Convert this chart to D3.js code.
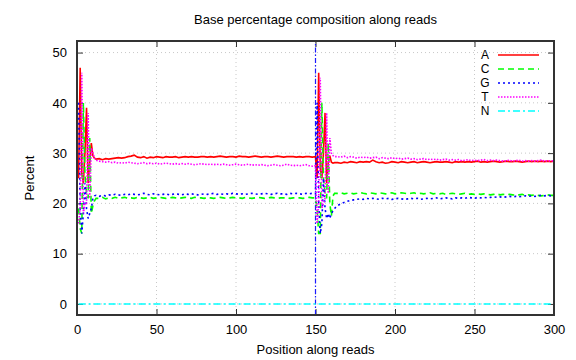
<!DOCTYPE html>
<html>
<head>
<meta charset="utf-8">
<script src="https://cdn.jsdelivr.net/npm/d3@7"></script>
<style>
  html, body { margin: 0; padding: 0; background: #fff; }
  svg text { font-family: "Liberation Sans", Arial, Helvetica, sans-serif; }
</style>
</head>
<body>
<svg id="chart" width="576" height="360"></svg>
<script>
// ---------------- DATA ----------------
const title = "Base percentage composition along reads";
const xLabel = "Position along reads";
const yLabel = "Percent";
const xTicks = [0, 50, 100, 150, 200, 250, 300];
const yTicks = [0, 10, 20, 30, 40, 50];
const bases = ["A", "C", "G", "T", "N"];

// read 1: positions 1..12 individually, then every 2nd position to 150
// read 2: positions 151..162 individually, then every 2nd position to 300
const positions = [
  1,2,3,4,5,6,7,8,9,10,11,12,
  14,16,18,20,22,24,26,28,30,32,
  34,36,38,40,42,44,46,48,50,52,
  54,56,58,60,62,64,66,68,70,72,
  74,76,78,80,82,84,86,88,90,92,
  94,96,98,100,102,104,106,108,110,112,
  114,116,118,120,122,124,126,128,130,132,
  134,136,138,140,142,144,146,148,150,
  151,152,153,154,155,156,157,158,159,160,161,162,
  164,166,168,170,172,174,176,178,180,182,
  184,186,188,190,192,194,196,198,200,202,
  204,206,208,210,212,214,216,218,220,222,
  224,226,228,230,232,234,236,238,240,242,
  244,246,248,250,252,254,256,258,260,262,
  264,266,268,270,272,274,276,278,280,282,
  284,286,288,290,292,294,296,298,300
];

const valuesA = [
  25,47,26,24,30,39,24,28,32,29.5,29,28.8,
  28.9,28.7,28.9,28.8,28.9,29.0,29.1,29.0,29.1,29.3,
  29.4,29.6,29.2,29.1,29.3,29.0,29.2,29.1,29.3,29.2,
  29.1,29.3,29.2,29.2,29.3,29.1,29.2,29.3,29.2,29.3,
  29.2,29.2,29.3,29.3,29.2,29.3,29.2,29.3,29.4,29.3,
  29.2,29.3,29.3,29.2,29.4,29.3,29.3,29.2,29.3,29.4,
  29.3,29.2,29.3,29.3,29.2,29.3,29.4,29.3,29.2,29.3,
  29.3,29.3,29.2,29.3,29.2,29.3,29.3,29.2,29.3,
  25,46,27,25,30,38,24,28,29.5,28.2,28.0,28.1,
  28.1,28.0,28.2,28.1,28.3,28.2,28.1,28.3,28.2,28.3,
  28.2,28.6,28.3,28.1,28.2,28.0,28.1,28.3,28.2,28.1,
  28.3,28.2,28.1,28.2,28.3,28.1,28.2,28.3,28.2,28.1,
  28.2,28.3,28.2,28.2,28.3,28.2,28.1,28.3,28.2,28.3,
  28.2,28.3,28.2,28.3,28.4,28.2,28.3,28.2,28.3,28.4,
  28.3,28.2,28.3,28.4,28.3,28.3,28.4,28.3,28.2,28.3,
  28.4,28.3,28.4,28.3,28.4,28.3,28.4,28.3,28.4
];

const valuesC = [
  19,15,14,40,26,22,21,33,18,19.5,20.5,21,
  21.0,21.2,20.9,21.1,21.0,21.2,21.0,21.1,21.2,21.0,
  21.1,21.0,21.2,21.1,21.0,21.1,21.2,21.0,21.1,21.2,
  21.1,21.0,21.1,21.2,21.1,21.0,21.1,21.2,21.1,21.0,
  21.2,21.1,21.1,21.0,21.2,21.1,21.0,21.1,21.2,21.1,
  21.0,21.1,21.2,21.1,21.1,21.0,21.2,21.1,21.0,21.1,
  21.2,21.1,21.0,21.1,21.2,21.1,21.0,21.1,21.1,21.2,
  21.0,21.1,21.2,21.1,21.0,21.1,21.2,21.1,21.1,
  19,14,14,40,25,22,21,32,20,17.5,21.5,22.0,
  22.0,22.1,21.9,22.0,22.1,21.9,22.0,22.2,22.0,21.9,
  22.1,22.0,21.9,22.1,22.0,21.9,22.0,22.1,21.9,22.0,
  22.1,22.0,21.9,22.0,22.1,21.9,22.0,21.9,22.0,22.1,
  21.9,22.0,21.9,22.0,21.8,21.9,22.0,21.9,21.8,21.9,
  22.0,21.8,21.9,21.8,21.9,21.8,21.9,21.8,21.7,21.8,
  21.9,21.7,21.8,21.7,21.8,21.7,21.6,21.7,21.8,21.6,
  21.7,21.6,21.7,21.6,21.5,21.6,21.7,21.6,21.6
];

const valuesG = [
  40,19,14,18,24,19,17,18,19,21,21.5,21.6,
  21.4,21.6,21.5,21.7,21.6,21.8,21.7,21.6,21.8,21.7,
  21.9,21.8,21.7,21.8,22.0,21.8,21.7,21.9,21.8,21.7,
  21.8,21.9,21.7,21.8,21.9,21.8,21.7,21.9,21.8,21.9,
  21.8,21.7,21.8,21.9,21.8,21.9,22.0,21.8,21.9,21.8,
  21.9,21.8,22.0,21.9,21.8,21.9,21.8,21.9,22.0,21.9,
  21.8,21.9,22.0,21.9,21.8,21.9,22.0,21.9,21.9,21.8,
  22.0,21.9,22.0,21.9,21.8,22.0,21.9,22.0,21.9,
  40,20,14,16,25,19,17,18,17,18,18.5,19.0,
  19.6,19.9,20.2,20.4,20.6,20.7,20.8,20.9,20.8,21.0,
  20.9,21.0,20.9,20.8,21.0,20.9,21.0,20.8,20.9,21.0,
  20.9,20.8,20.9,21.0,20.9,21.0,20.8,20.9,21.0,20.9,
  21.0,21.1,20.9,21.0,21.1,21.0,20.9,21.1,21.0,21.1,
  21.0,21.2,21.1,21.0,21.2,21.1,21.2,21.1,21.2,21.3,
  21.2,21.3,21.2,21.3,21.4,21.3,21.4,21.3,21.4,21.5,
  21.4,21.5,21.4,21.5,21.6,21.5,21.6,21.5,21.6
];

const valuesT = [
  16,19,46,18,20,20,38,21,31,30,29,28.6,
  28.4,28.3,28.2,28.3,28.1,28.2,28.0,28.1,28.0,28.2,
  28.1,28.0,27.9,28.0,28.1,27.9,28.0,27.9,28.0,27.8,
  27.9,28.0,27.9,27.8,27.9,27.8,27.9,27.8,27.9,27.8,
  27.7,27.8,27.9,27.8,27.7,27.8,27.7,27.8,27.7,27.8,
  27.7,27.6,27.7,27.8,27.7,27.6,27.7,27.8,27.6,27.7,
  27.6,27.7,27.6,27.5,27.6,27.7,27.6,27.5,27.6,27.8,
  27.6,27.5,27.6,27.5,27.6,27.7,27.5,27.4,27.5,
  16,20,45,19,20,21,38,22,33,30,29.5,29.3,
  29.3,29.2,29.4,29.1,29.3,29.2,29.0,29.2,29.1,29.2,
  29.0,29.1,29.2,28.9,29.1,29.0,28.9,29.1,28.9,29.0,
  28.8,28.9,29.0,28.8,28.9,28.7,28.8,28.9,28.7,28.8,
  28.7,28.8,28.6,28.7,28.8,28.6,28.7,28.6,28.7,28.5,
  28.6,28.7,28.5,28.6,28.5,28.6,28.7,28.5,28.6,28.5,
  28.6,28.5,28.4,28.5,28.6,28.4,28.5,28.6,28.4,28.5,
  28.4,28.5,28.4,28.5,28.6,28.4,28.5,28.4,28.5
];

const positionsN = [1, 150, 151, 300];
const valuesN = [0, 0, 0, 0];

const readBoundary = [150];

// ---------------- STYLE ----------------
const W = 576, H = 360;
const m = { left: 77, right: 22, top: 41, bottom: 45 };
const colors = { A: "#ff0000", C: "#00ff00", G: "#0000ff", T: "#ff00ff", N: "#00ffff" };
const dashes = { A: null, C: "6,4", G: "2,3", T: "1.5,1.5", N: "7,3,2,3" };

const svg = d3.select("#chart");
const x = d3.scaleLinear().domain([0, 300]).range([m.left, W - m.right]);
const y = d3.scaleLinear().domain([-2.2, 52.3]).range([H - m.bottom, m.top]);
const x0 = x.range()[0], x1 = x.range()[1], y0 = y.range()[0], y1 = y.range()[1];

svg.append("rect").attr("width", W).attr("height", H).attr("fill", "#fff");

// grid
const grid = svg.append("g");
xTicks.filter(t => t > 0 && t < 300).forEach(t => {
  grid.append("line").attr("x1", x(t)).attr("x2", x(t)).attr("y1", y0).attr("y2", y1)
    .attr("stroke", "#c8c8c8").attr("stroke-width", 1).attr("stroke-dasharray", "1,3");
});
yTicks.forEach(t => {
  grid.append("line").attr("x1", x0).attr("x2", x1).attr("y1", y(t)).attr("y2", y(t))
    .attr("stroke", "#c8c8c8").attr("stroke-width", 1).attr("stroke-dasharray", "1,3");
});

// axes via d3
const tickLen = 6;
const xAxisB = d3.axisBottom(x).tickValues(xTicks).tickSize(-tickLen).tickPadding(10);
const xAxisT = d3.axisTop(x).tickValues(xTicks).tickSize(-tickLen).tickFormat("");
const yAxisL = d3.axisLeft(y).tickValues(yTicks).tickSize(-tickLen).tickPadding(10);
const yAxisR = d3.axisRight(y).tickValues(yTicks).tickSize(-tickLen).tickFormat("");

function styleAxis(g) {
  g.select(".domain").remove();
  g.selectAll(".tick line").attr("stroke", "#333").attr("stroke-width", 1);
  g.selectAll(".tick text").attr("fill", "#000").style("font-size", "13px")
    .style("font-family", "'Liberation Sans', Arial, sans-serif");
}
svg.append("g").attr("transform", `translate(0,${y0})`).call(xAxisB).call(styleAxis);
svg.append("g").attr("transform", `translate(0,${y1})`).call(xAxisT).call(styleAxis);
svg.append("g").attr("transform", `translate(${x0},0)`).call(yAxisL).call(styleAxis);
svg.append("g").attr("transform", `translate(${x1},0)`).call(yAxisR).call(styleAxis);

// read boundary
readBoundary.forEach(b => {
  svg.append("line").attr("x1", x(b)).attr("x2", x(b)).attr("y1", y0).attr("y2", y1)
    .attr("stroke", "#1a1aff").attr("stroke-width", 1.2).attr("stroke-dasharray", "5,2,1.5,2");
});

// series
const series = {
  A: positions.map((p, i) => [p, valuesA[i]]),
  C: positions.map((p, i) => [p, valuesC[i]]),
  G: positions.map((p, i) => [p, valuesG[i]]),
  T: positions.map((p, i) => [p, valuesT[i]]),
  N: positionsN.map((p, i) => [p, valuesN[i]])
};
const line = d3.line().x(d => x(d[0])).y(d => y(d[1]));
svg.append("clipPath").attr("id", "clip").append("rect")
  .attr("x", x0).attr("y", y1).attr("width", x1 - x0).attr("height", y0 - y1);
bases.forEach(b => {
  svg.append("path").datum(series[b]).attr("d", line)
    .attr("clip-path", "url(#clip)")
    .attr("fill", "none").attr("stroke", colors[b]).attr("stroke-width", 1.6)
    .attr("stroke-dasharray", dashes[b]).attr("stroke-linejoin", "miter");
});

// border
svg.append("rect").attr("x", x0).attr("y", y1).attr("width", x1 - x0).attr("height", y0 - y1)
  .attr("fill", "none").attr("stroke", "#333").attr("stroke-width", 2);

// legend
const leg = svg.append("g");
bases.forEach((b, i) => {
  const ly = 55 + i * 14;
  leg.append("text").attr("x", 485).attr("y", ly).attr("dy", "0.36em").attr("text-anchor", "middle")
    .style("font-size", "12px").attr("fill", "#000").text(b);
  leg.append("line").attr("x1", 498).attr("x2", 539).attr("y1", ly).attr("y2", ly)
    .attr("stroke", colors[b]).attr("stroke-width", 1.6).attr("stroke-dasharray", dashes[b]);
});

// titles
svg.append("text").attr("x", (x0 + x1) / 2).attr("y", 24).attr("text-anchor", "middle")
  .style("font-size", "13px").attr("fill", "#000").text(title);
svg.append("text").attr("x", (x0 + x1) / 2).attr("y", 354).attr("text-anchor", "middle")
  .style("font-size", "13px").attr("fill", "#000").text(xLabel);
svg.append("text").attr("transform", `translate(34,${(y0 + y1) / 2}) rotate(-90)`)
  .attr("text-anchor", "middle").style("font-size", "13px").attr("fill", "#000").text(yLabel);
</script>
</body>
</html>
